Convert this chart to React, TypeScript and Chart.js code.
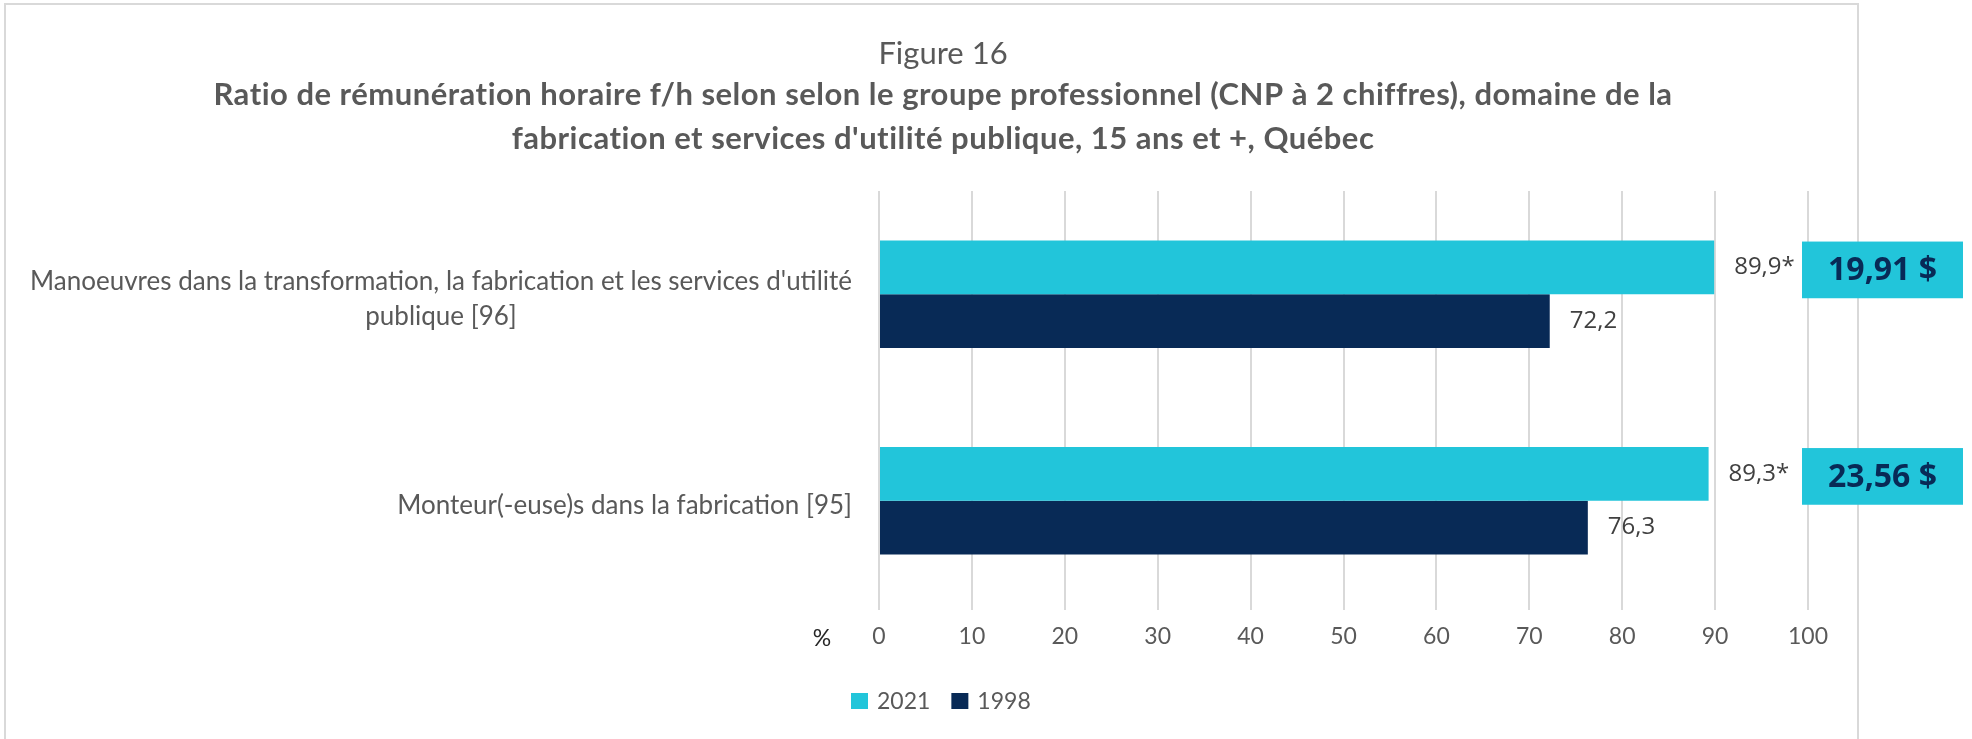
import React, { useEffect, useRef } from 'react';
import { Chart, registerables } from 'chart.js';

Chart.register(...registerables);

const figureLabel = 'Figure 16';
const titleLines = [
  'Ratio de rémunération horaire f/h selon selon le groupe professionnel (CNP à 2 chiffres), domaine de la',
  "fabrication et services d'utilité publique, 15 ans et +, Québec",
];
const categoryLines = [
  ["Manoeuvres dans la transformation, la fabrication et les services d'utilité", 'publique [96]'],
  ['Monteur(-euse)s dans la fabrication [95]'],
];
const seriesNames = ['2021', '1998'];
const values2021 = [89.9, 89.3];
const values1998 = [72.2, 76.3];
const significant2021 = [true, true];
const significant1998 = [false, false];
const wages2021 = ['19,91 $', '23,56 $'];
const xTickValues = [0, 10, 20, 30, 40, 50, 60, 70, 80, 90, 100];
const axisUnit = '%';

const CYAN = '#22C5DA';
const NAVY = '#082A56';
const GRAY_TEXT = '#595959';
const GRID = '#D9D9D9';

const fmt = (v: number) => v.toFixed(1).replace('.', ',');

const overlayPlugin = {
  id: 'overlay',
  afterDraw(chart: any) {
    const ctx = chart.ctx as CanvasRenderingContext2D;
    const area = chart.chartArea;
    const yScale = chart.scales.y;
    ctx.save();

    // frame
    ctx.strokeStyle = GRID;
    ctx.lineWidth = 2;
    ctx.beginPath();
    ctx.moveTo(5, 745);
    ctx.lineTo(5, 4);
    ctx.lineTo(1858, 4);
    ctx.lineTo(1858, 745);
    ctx.stroke();

    // titles
    const cx = 943;
    ctx.fillStyle = GRAY_TEXT;
    ctx.textAlign = 'center';
    ctx.textBaseline = 'middle';
    ctx.font = '31px Lato';
    ctx.fillText(figureLabel, cx, 54);
    ctx.font = 'bold 31px Lato';
    (ctx as any).letterSpacing = '0.5px';
    titleLines.forEach((t, i) => ctx.fillText(t, cx, 95 + i * 44));
    (ctx as any).letterSpacing = '0px';

    // category labels
    ctx.font = '26px Lato';
    ctx.fillStyle = GRAY_TEXT;
    const rightEdge = area.left - 27;
    categoryLines.forEach((lines, i) => {
      const yc = yScale.getPixelForValue(i) + 5;
      const widths = lines.map((l) => ctx.measureText(l).width);
      const maxW = Math.max(...widths);
      const center = rightEdge - maxW / 2;
      const lh = 35;
      const y0 = yc - ((lines.length - 1) * lh) / 2;
      lines.forEach((l, j) => {
        ctx.textAlign = 'center';
        ctx.fillText(l, center, y0 + j * lh);
      });
    });

    // axis unit
    ctx.textAlign = 'center';
    ctx.fillStyle = '#262626';
    ctx.font = '23px Lato';
    ctx.fillText(axisUnit, 822, 639);

    // data labels
    const sigs = [significant2021, significant1998];
    ctx.font = '24px "Open Sans"';
    ctx.fillStyle = '#404040';
    ctx.textAlign = 'left';
    chart.data.datasets.forEach((ds: any, di: number) => {
      const meta = chart.getDatasetMeta(di);
      meta.data.forEach((bar: any, i: number) => {
        const txt = fmt(ds.data[i]) + (sigs[di][i] ? '*' : '');
        ctx.fillText(txt, bar.x + 20, bar.y);
      });
    });

    // wage boxes
    const meta0 = chart.getDatasetMeta(0);
    meta0.data.forEach((bar: any, i: number) => {
      const h = bar.height;
      const top = bar.y - h / 2 + 1;
      const left = area.right - 6;
      const w = 161;
      ctx.fillStyle = CYAN;
      ctx.fillRect(left, top, w, h + 3);
      ctx.fillStyle = NAVY;
      ctx.font = 'bold 32px "Open Sans"';
      ctx.textAlign = 'center';
      ctx.fillText(wages2021[i], left + w / 2, top + (h + 3) / 2 + 1);
    });

    // legend
    const colors = [CYAN, NAVY];
    let lx = 851;
    const ly = 701;
    ctx.font = '23px Lato';
    ctx.textAlign = 'left';
    seriesNames.forEach((name, i) => {
      ctx.fillStyle = colors[i];
      ctx.fillRect(lx, ly - 8, 17, 16);
      ctx.fillStyle = GRAY_TEXT;
      ctx.fillText(name, lx + 26, ly + 1);
      lx += 26 + ctx.measureText(name).width + 21;
    });

    ctx.restore();
  },
};

export default function App() {
  const ref = useRef<HTMLCanvasElement | null>(null);
  useEffect(() => {
    if (!ref.current) return;
    const chart = new Chart(ref.current, {
      type: 'bar',
      data: {
        labels: categoryLines.map((l) => l.join(' ')),
        datasets: [
          { label: seriesNames[0], data: values2021, backgroundColor: CYAN, borderWidth: 0 },
          { label: seriesNames[1], data: values1998, backgroundColor: NAVY, borderWidth: 0 },
        ],
      },
      options: {
        indexAxis: 'y',
        responsive: false,
        animation: false,
        devicePixelRatio: 1,
        layout: { padding: { left: 879, right: 164, top: 191, bottom: 85 } },
        datasets: { bar: { categoryPercentage: 0.52, barPercentage: 1 } },
        plugins: { legend: { display: false }, tooltip: { enabled: false }, title: { display: false } },
        scales: {
          y: { display: false },
          x: {
            min: 0,
            max: 100,
            afterBuildTicks: (scale: any) => {
              scale.ticks = xTickValues.map((v) => ({ value: v }));
            },
            afterFit: (scale: any) => {
              scale.height = 50;
            },
            grid: { color: GRID, lineWidth: 2, drawTicks: true, tickLength: 6, tickColor: GRID },
            border: { display: false },
            ticks: {
              color: GRAY_TEXT,
              font: { family: 'Lato', size: 23 },
              padding: 13,
              callback: (v: any) => String(v),
            },
          },
        },
      },
      plugins: [overlayPlugin],
    } as any);
    return () => chart.destroy();
  }, []);
  return (
    <div style={{ position: 'fixed', left: 0, top: 0, width: 1972, height: 739, background: '#fff' }}>
      <canvas ref={ref} width={1972} height={739} style={{ width: 1972, height: 739, display: 'block' }} />
    </div>
  );
}
